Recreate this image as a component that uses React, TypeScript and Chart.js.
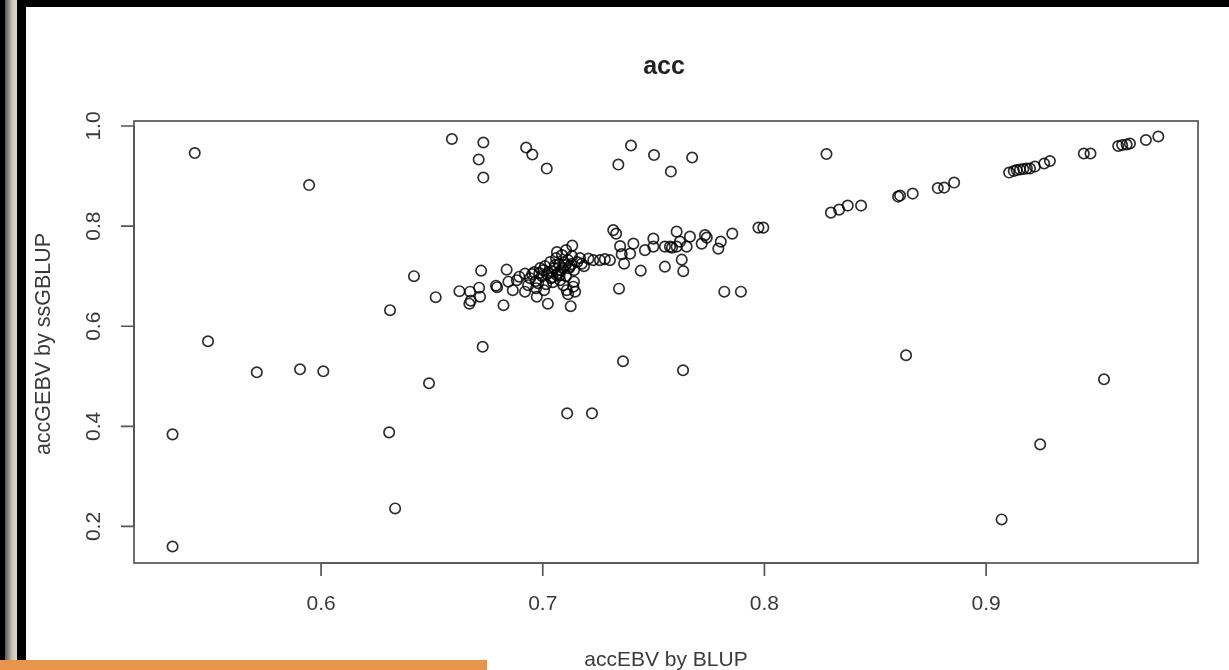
import React, { useEffect, useRef } from "react";
import { Chart, registerables } from "chart.js";

Chart.register(...registerables);

const chartTitle = "acc";
const xAxisTitle = "accEBV by BLUP";
const yAxisTitle = "accGEBV by ssGBLUP";
const xTicks = [0.6, 0.7, 0.8, 0.9];
const xTickLabels = ["0.6", "0.7", "0.8", "0.9"];
const yTicks = [0.2, 0.4, 0.6, 0.8, 1.0];
const yTickLabels = ["0.2", "0.4", "0.6", "0.8", "1.0"];

// scattered points
const outlierX = [0.543, 0.533, 0.533, 0.549, 0.571, 0.5905, 0.601, 0.5946, 0.6311, 0.6307, 0.6334, 0.6487, 0.6517, 0.6419, 0.659, 0.6732, 0.6711, 0.6732, 0.6729, 0.6925, 0.6953, 0.7018, 0.7341, 0.7398, 0.7502, 0.7578, 0.7674, 0.7362, 0.711, 0.7222, 0.7633, 0.7819, 0.7894, 0.828, 0.8639, 0.9532, 0.9244, 0.907];
const outlierY = [0.946, 0.16, 0.384, 0.57, 0.508, 0.514, 0.51, 0.882, 0.632, 0.388, 0.236, 0.486, 0.658, 0.7, 0.974, 0.967, 0.933, 0.897, 0.559, 0.957, 0.943, 0.915, 0.923, 0.961, 0.942, 0.909, 0.937, 0.53, 0.426, 0.426, 0.512, 0.669, 0.669, 0.944, 0.542, 0.494, 0.364, 0.214];

// upper-right diagonal
const diagX = [0.7973, 0.7995, 0.83, 0.8337, 0.8376, 0.8436, 0.8603, 0.8612, 0.8669, 0.8782, 0.8811, 0.8856, 0.9104, 0.9125, 0.9138, 0.9153, 0.9168, 0.9184, 0.9198, 0.922, 0.9262, 0.9288, 0.9441, 0.9471, 0.9596, 0.9614, 0.9634, 0.9649, 0.9721, 0.9777];
const diagY = [0.797, 0.797, 0.827, 0.833, 0.841, 0.841, 0.859, 0.861, 0.865, 0.876, 0.877, 0.887, 0.907, 0.91, 0.912, 0.913, 0.914, 0.915, 0.915, 0.919, 0.925, 0.93, 0.945, 0.945, 0.96, 0.962, 0.963, 0.965, 0.972, 0.979];

// central cluster
const clusterX = [0.7318, 0.7331, 0.7133, 0.7349, 0.7409, 0.7461, 0.7356, 0.7394, 0.7367, 0.7442, 0.7344, 0.7499, 0.7499, 0.7551, 0.7574, 0.7583, 0.7604, 0.7604, 0.7619, 0.7649, 0.7664, 0.7627, 0.7551, 0.7634, 0.7717, 0.7732, 0.774, 0.7792, 0.7803, 0.7855,
  0.7228, 0.7258, 0.7303, 0.7206, 0.7176, 0.728,
  0.6624, 0.6669, 0.6675, 0.6672, 0.6713, 0.6717, 0.6722, 0.6789, 0.6794, 0.6823, 0.6837, 0.6845, 0.6865, 0.6883, 0.6894, 0.692, 0.692, 0.6973, 0.7023, 0.7126,
  0.7093, 0.7108, 0.7138, 0.7146, 0.7141, 0.7114,
  0.6943, 0.6961, 0.6979, 0.6988, 0.6997, 0.701, 0.7015, 0.7024, 0.7033, 0.7037, 0.7051, 0.706, 0.7064, 0.7073, 0.7082, 0.7087, 0.7096, 0.7105, 0.7114, 0.7123, 0.7132, 0.7141, 0.7155, 0.7168, 0.7186, 0.7006, 0.697, 0.6934, 0.7046, 0.7078, 0.7064, 0.7105,
  0.6985, 0.7002, 0.7019, 0.7041, 0.7055, 0.7069, 0.7091, 0.7102, 0.7118, 0.7129, 0.7044, 0.7076, 0.6952, 0.6968];
const clusterY = [0.792, 0.785, 0.761, 0.76, 0.765, 0.752, 0.744, 0.745, 0.725, 0.711, 0.675, 0.775, 0.759, 0.759, 0.759, 0.757, 0.789, 0.759, 0.769, 0.759, 0.779, 0.733, 0.719, 0.71, 0.765, 0.782, 0.777, 0.755, 0.769, 0.785,
  0.732, 0.732, 0.732, 0.735, 0.725, 0.734,
  0.67, 0.645, 0.651, 0.669, 0.677, 0.659, 0.711, 0.681, 0.678, 0.642, 0.713, 0.689, 0.672, 0.692, 0.699, 0.669, 0.705, 0.659, 0.645, 0.64,
  0.682, 0.672, 0.679, 0.669, 0.689, 0.664,
  0.696, 0.708, 0.686, 0.716, 0.7, 0.72, 0.684, 0.708, 0.728, 0.696, 0.716, 0.736, 0.702, 0.724, 0.712, 0.742, 0.728, 0.7, 0.732, 0.72, 0.74, 0.712, 0.728, 0.736, 0.72, 0.672, 0.676, 0.682, 0.688, 0.692, 0.748, 0.752,
  0.706, 0.712, 0.704, 0.71, 0.722, 0.706, 0.716, 0.722, 0.716, 0.724, 0.698, 0.702, 0.704, 0.69];

const allX = [...outlierX, ...diagX, ...clusterX];
const allY = [...outlierY, ...diagY, ...clusterY];

const FONT = '"Liberation Sans", Arial, Helvetica, sans-serif';

const rAxesPlugin = {
  id: "rAxes",
  afterDraw(chart: any) {
    const { ctx, chartArea } = chart;
    const { left, right, top, bottom } = chartArea;
    const xs = chart.scales.x;
    const ys = chart.scales.y;
    ctx.save();
    ctx.strokeStyle = "#555";
    ctx.lineWidth = 1.7;
    ctx.strokeRect(left, top, right - left, bottom - top);

    ctx.fillStyle = "#3a3a3a";
    ctx.font = `21px ${FONT}`;
    // x axis
    const xp = xTicks.map((v) => xs.getPixelForValue(v));
    ctx.beginPath();
    ctx.moveTo(xp[0], bottom);
    ctx.lineTo(xp[xp.length - 1], bottom);
    xp.forEach((p) => {
      ctx.moveTo(p, bottom);
      ctx.lineTo(p, bottom + 13);
    });
    ctx.stroke();
    ctx.textAlign = "center";
    ctx.textBaseline = "middle";
    xp.forEach((p, i) => ctx.fillText(xTickLabels[i], p, bottom + 41));

    // y axis
    const yp = yTicks.map((v) => ys.getPixelForValue(v));
    ctx.beginPath();
    ctx.moveTo(left, yp[0]);
    ctx.lineTo(left, yp[yp.length - 1]);
    yp.forEach((p) => {
      ctx.moveTo(left, p);
      ctx.lineTo(left - 13, p);
    });
    ctx.stroke();
    yp.forEach((p, i) => {
      ctx.save();
      ctx.translate(left - 40, p);
      ctx.rotate(-Math.PI / 2);
      ctx.fillText(yTickLabels[i], 0, 0);
      ctx.restore();
    });

    // axis titles
    ctx.fillText(xAxisTitle, (left + right) / 2, bottom + 97);
    ctx.save();
    ctx.translate(44, (top + bottom) / 2 + 2);
    ctx.rotate(-Math.PI / 2);
    ctx.font = `21.5px ${FONT}`;
    ctx.fillText(yAxisTitle, 0, 0);
    ctx.restore();

    // main title
    ctx.fillStyle = "#222";
    ctx.font = `bold 25px ${FONT}`;
    ctx.fillText(chartTitle, (left + right) / 2 - 2, 67);
    ctx.restore();
  },
};

export default function App() {
  const canvasRef = useRef<HTMLCanvasElement | null>(null);

  useEffect(() => {
    document.body.style.margin = "0";
    document.body.style.overflow = "hidden";
    const canvas = canvasRef.current;
    if (!canvas) return;
    const data = allX.map((x, i) => ({ x, y: allY[i] }));
    const chart = new Chart(canvas, {
      type: "scatter",
      data: {
        datasets: [
          {
            data,
            pointStyle: "circle",
            pointRadius: 5.2,
            pointBorderWidth: 1.7,
            borderColor: "rgba(0,0,0,0.82)",
            backgroundColor: "rgba(0,0,0,0)",
          },
        ],
      },
      options: {
        responsive: false,
        animation: false,
        devicePixelRatio: 1,
        layout: { padding: { left: 134, top: 121, right: 31, bottom: 107 } },
        plugins: {
          legend: { display: false },
          title: { display: false },
          tooltip: { enabled: false },
        },
        scales: {
          x: { type: "linear", min: 0.5156, max: 0.9956, display: false },
          y: { type: "linear", min: 0.127, max: 1.01, display: false },
        },
      },
      plugins: [rAxesPlugin],
    });
    return () => chart.destroy();
  }, []);

  return (
    <div style={{ position: "relative", width: 1229, height: 670, background: "#fff", overflow: "hidden" }}>
      <canvas ref={canvasRef} width={1229} height={670} style={{ position: "absolute", left: 0, top: 0 }} />
      <div style={{ position: "absolute", left: 0, top: 0, width: 1229, height: 7, background: "#000" }} />
      <div style={{ position: "absolute", left: 0, top: 0, width: 5, height: 670, background: "#000" }} />
      <div style={{ position: "absolute", left: 5, top: 0, width: 12, height: 670, background: "linear-gradient(to right, #5a5850, #c8c6b8 60%, #dcdacb)" }} />
      <div style={{ position: "absolute", left: 17, top: 0, width: 9, height: 670, background: "#000" }} />
      <div style={{ position: "absolute", left: 0, top: 660, width: 487, height: 10, background: "#e8944a" }} />
    </div>
  );
}
